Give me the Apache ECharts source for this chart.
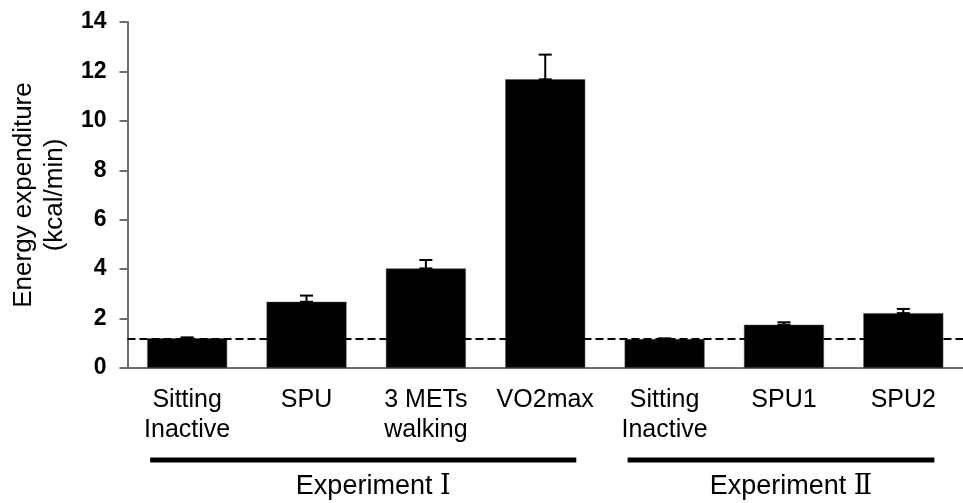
<!DOCTYPE html>
<html>
<head>
<meta charset="utf-8">
<script src="https://cdn.jsdelivr.net/npm/echarts@6/dist/echarts.min.js"></script>
<style>html,body{margin:0;padding:0;background:#fff}#c{width:963px;height:503px}</style>
</head>
<body>
<div id="c"></div>
<script>
const categories = ['Sitting\nInactive', 'SPU', '3 METs\nwalking', 'VO2max', 'Sitting\nInactive', 'SPU1', 'SPU2'];
const means = [1.2, 2.68, 4.03, 11.68, 1.17, 1.75, 2.22];
const sds = [0.04, 0.25, 0.34, 1.0, 0.03, 0.1, 0.17];
const baseline = 1.2;
const yTicks = { min: 0, max: 14, interval: 2 };
const groupLabels = ['Experiment ', 'Experiment '];
const groupNumerals = ['\u2160', '\u2161'];
const groupStart = [0, 4];
const groupEnd = [3, 6];

const FONT = 'Arial, "Liberation Sans", sans-serif';
const chart = echarts.init(document.getElementById('c'), null, { renderer: 'canvas' });

const errData = means.map((m, i) => [i, m, sds[i]]);
const groupData = groupLabels.map((n, i) => [groupStart[i], groupEnd[i]]);

chart.setOption({
  animation: false,
  backgroundColor: '#fff',
  grid: { left: 124, top: 22, bottom: 135, right: -6, containLabel: false },
  xAxis: {
    type: 'category',
    data: categories,
    axisLine: { lineStyle: { color: '#6e6e6e', width: 2 } },
    axisTick: { show: false },
    axisLabel: { color: '#000', fontSize: 25, lineHeight: 30, fontFamily: FONT, margin: 17, interval: 0 }
  },
  yAxis: {
    type: 'value',
    min: yTicks.min, max: yTicks.max, interval: yTicks.interval,
    name: 'Energy expenditure\n(kcal/min)',
    nameLocation: 'middle',
    nameRotate: 90,
    nameGap: 52,
    nameTextStyle: { color: '#000', fontSize: 26, lineHeight: 31, fontFamily: FONT },
    axisLine: { show: true, lineStyle: { color: '#6e6e6e', width: 2 } },
    axisTick: { show: true, length: 8, lineStyle: { color: '#6e6e6e', width: 2 } },
    splitLine: { show: false },
    axisLabel: { color: '#000', fontSize: 23, fontWeight: 'bold', fontFamily: FONT, margin: 21 }
  },
  series: [
    {
      type: 'bar',
      data: means,
      barWidth: '67%',
      itemStyle: { color: '#000', borderColor: '#555', borderWidth: 0.5 },
      z: 2,
      markLine: {
        silent: true,
        symbol: ['none', 'none'],
        label: { show: false },
        lineStyle: { color: '#000', type: [8, 4], width: 2 },
        data: [{ yAxis: baseline }],
        z: 5
      }
    },
    {
      type: 'custom',
      data: errData,
      z: 4,
      renderItem: function (params, api) {
        const x = api.value(0), m = api.value(1), s = api.value(2);
        const top = api.coord([x, m + s]);
        const bot = api.coord([x, m]);
        const hw = 6.5;
        return {
          type: 'group',
          children: [
            { type: 'line', shape: { x1: top[0], y1: top[1], x2: bot[0], y2: bot[1] }, style: { stroke: '#000', lineWidth: 2 } },
            { type: 'line', shape: { x1: top[0] - hw, y1: top[1], x2: top[0] + hw, y2: top[1] }, style: { stroke: '#000', lineWidth: 2 } },
            { type: 'line', shape: { x1: bot[0] - hw, y1: bot[1], x2: bot[0] + hw, y2: bot[1] }, style: { stroke: '#000', lineWidth: 2 } }
          ]
        };
      }
    },
    {
      type: 'custom',
      data: groupData,
      z: 4,
      renderItem: function (params, api) {
        const s = api.value(0), e = api.value(1);
        const i = params.dataIndex;
        const band = api.size([1, 0])[0];
        const p0 = api.coord([s, 0]);
        const p1 = api.coord([e, 0]);
        const x1 = p0[0] - band * 0.31;
        const x2 = p1[0] + band * 0.26;
        const y = p0[1] + 92;
        return {
          type: 'group',
          children: [
            { type: 'line', shape: { x1: x1, y1: y, x2: x2, y2: y }, style: { stroke: '#000', lineWidth: 5 } },
            {
              type: 'text',
              style: {
                text: '{a|' + groupLabels[i] + '}{b|' + groupNumerals[i] + '}',
                x: (x1 + x2) / 2 + 10, y: y + 27,
                align: 'center', verticalAlign: 'middle',
                rich: {
                  a: { fontSize: 27, fontFamily: FONT, fill: '#000', color: '#000' },
                  b: { fontSize: 27, fontFamily: '"DejaVu Serif", "Liberation Serif", serif', fill: '#000', color: '#000' }
                }
              }
            }
          ]
        };
      }
    }
  ]
});
</script>
</body>
</html>
